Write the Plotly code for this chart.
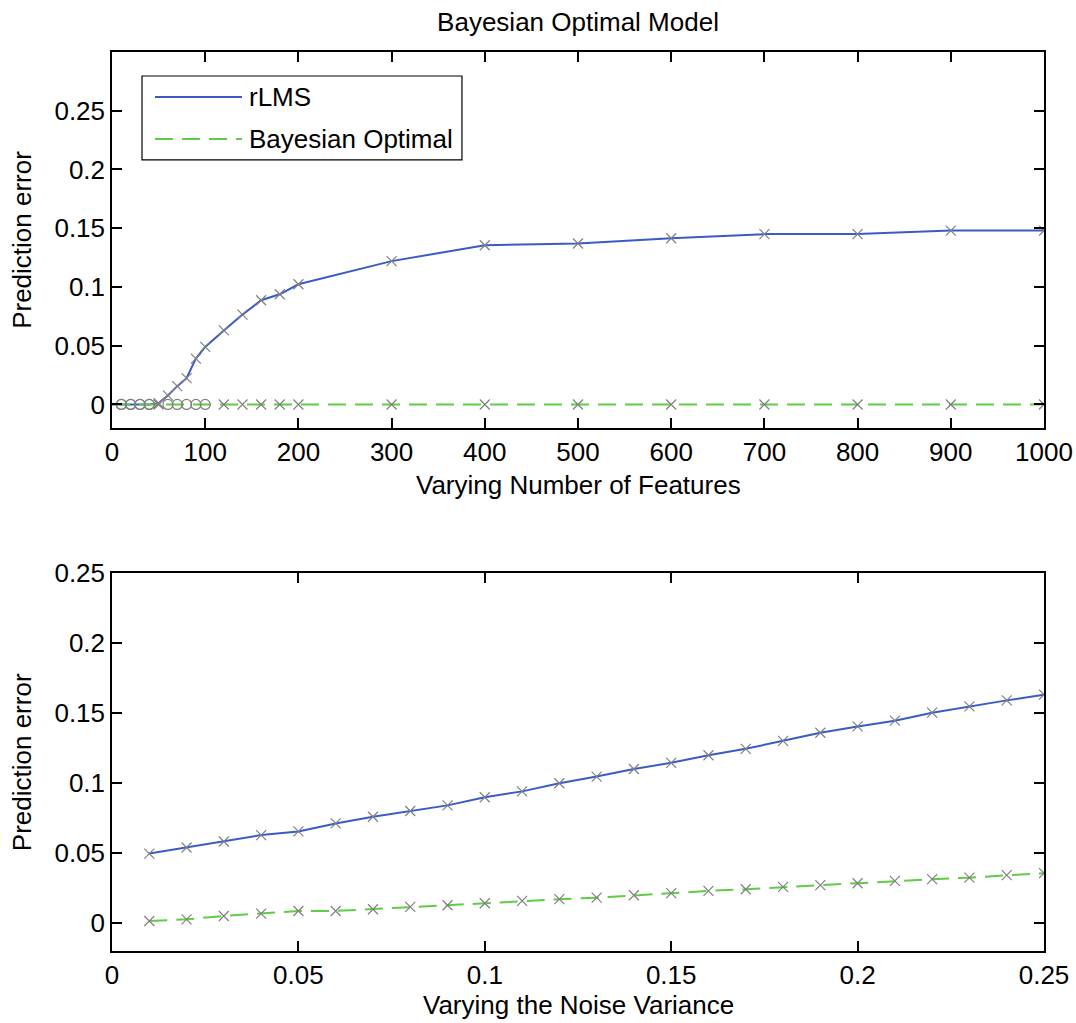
import plotly.graph_objects as go

# ---- data: varying number of features ----
n_features = [0, 10, 20, 30, 40, 50, 60, 70, 80, 90, 100, 120, 140, 160, 180, 200,
              300, 400, 500, 600, 700, 800, 900, 1000]
rlms_features = [0.0, 0.0, 0.0, 0.0, 0.0, 0.001, 0.0077, 0.0156, 0.0224, 0.039, 0.049,
                 0.063, 0.0765, 0.0887, 0.0938, 0.1023, 0.122, 0.1355, 0.137, 0.1415,
                 0.145, 0.145, 0.148, 0.148]
bayes_features = [0.0] * len(n_features)

# ---- data: varying noise variance ----
noise_var = [0.01, 0.02, 0.03, 0.04, 0.05, 0.06, 0.07, 0.08, 0.09, 0.10, 0.11, 0.12, 0.13,
             0.14, 0.15, 0.16, 0.17, 0.18, 0.19, 0.20, 0.21, 0.22, 0.23, 0.24, 0.25]
rlms_noise = [0.0496, 0.0539, 0.0582, 0.0628, 0.0654, 0.0711, 0.0759, 0.0800, 0.0840,
              0.0898, 0.0940, 0.0998, 0.1046, 0.1100, 0.1144, 0.1198, 0.1244, 0.1301,
              0.1359, 0.1404, 0.1445, 0.1502, 0.1547, 0.1590, 0.1631]
bayes_noise = [0.0014, 0.0026, 0.0050, 0.0067, 0.0086, 0.0086, 0.0098, 0.0115, 0.0127,
               0.0141, 0.0158, 0.0170, 0.0181, 0.0198, 0.0213, 0.0229, 0.0241, 0.0258,
               0.0270, 0.0284, 0.0301, 0.0313, 0.0324, 0.0342, 0.0356]

feature_ticks = [0, 100, 200, 300, 400, 500, 600, 700, 800, 900, 1000]
noise_ticks = [0, 0.05, 0.1, 0.15, 0.2, 0.25]
noise_tick_text = ["0", "0.05", "0.1", "0.15", "0.2", "0.25"]
error_ticks = [0, 0.05, 0.1, 0.15, 0.2, 0.25]
error_tick_text = ["0", "0.05", "0.1", "0.15", "0.2", "0.25"]
series_names = ["rLMS", "Bayesian Optimal"]

# ---- styles ----
BLUE = "#3a5bc7"
GREEN = "#5fcc45"
GREY = "#808080"
FONT = "Liberation Sans, Arial, sans-serif"
FS = 26
DASH = "18px,9px"

# marker shapes along the feature sweep (circles where the sweep is dense)
rlms_feat_symbols = ["circle-open" if x < 50 else "x-thin-open" for x in n_features]
bayes_feat_symbols = ["circle-open" if (x <= 100 and x != 50) else "x-thin-open"
                      for x in n_features]

fig = go.Figure()

# top panel
fig.add_trace(go.Scatter(x=n_features, y=rlms_features, mode="lines", name=series_names[0],
                         line=dict(color=BLUE, width=2), xaxis="x", yaxis="y"))
fig.add_trace(go.Scatter(x=n_features, y=bayes_features, mode="lines",
                         name=series_names[1],
                         line=dict(color=GREEN, width=2, dash=DASH),
                         xaxis="x", yaxis="y"))
fig.add_trace(go.Scatter(x=n_features[1:], y=rlms_features[1:], mode="markers",
                         hoverinfo="skip",
                         marker=dict(symbol=rlms_feat_symbols[1:], size=10, color=GREY,
                                     line=dict(color=GREY, width=1.2)),
                         xaxis="x", yaxis="y"))
fig.add_trace(go.Scatter(x=n_features[1:], y=bayes_features[1:], mode="markers",
                         hoverinfo="skip",
                         marker=dict(symbol=bayes_feat_symbols[1:], size=10, color=GREY,
                                     line=dict(color=GREY, width=1.2)),
                         xaxis="x", yaxis="y"))

# bottom panel
fig.add_trace(go.Scatter(x=noise_var, y=rlms_noise, mode="lines",
                         line=dict(color=BLUE, width=2), xaxis="x2", yaxis="y2"))
fig.add_trace(go.Scatter(x=noise_var, y=bayes_noise, mode="lines",
                         line=dict(color=GREEN, width=2, dash=DASH),
                         xaxis="x2", yaxis="y2"))
for ys in (rlms_noise, bayes_noise):
    fig.add_trace(go.Scatter(x=noise_var, y=ys, mode="markers", hoverinfo="skip",
                             marker=dict(symbol="x-thin-open", size=10, color=GREY,
                                         line=dict(color=GREY, width=1.2)),
                             xaxis="x2", yaxis="y2"))

axis_common = dict(showline=True, linecolor="black", linewidth=1.5, mirror="ticks",
                   ticks="inside", ticklen=10, tickwidth=1.5, tickcolor="black",
                   showgrid=False, zeroline=False, automargin=False,
                   tickfont=dict(family=FONT, size=FS, color="black"))

top_dom = [0.5818, 1.0]
bot_dom = [0.0, 0.4205]

fig.update_layout(
    width=1076, height=1023,
    margin=dict(l=112, r=32, t=52, b=72, autoexpand=False),
    paper_bgcolor="white", plot_bgcolor="white",
    font=dict(family=FONT, size=FS, color="black"),
    showlegend=False,
    title=dict(text="Bayesian Optimal Model", x=0.5372, xanchor="center",
               y=1 - 22 / 1023, yanchor="middle",
               font=dict(family=FONT, size=FS, color="black")),
    xaxis=dict(domain=[0, 1], anchor="y", range=[0, 1000], tickvals=feature_ticks,
               **axis_common),
    yaxis=dict(domain=top_dom, anchor="x", range=[-0.02, 0.3], tickvals=error_ticks,
               ticktext=error_tick_text, **axis_common),
    xaxis2=dict(domain=[0, 1], anchor="y2", range=[0, 0.25], tickvals=noise_ticks,
                ticktext=noise_tick_text, **axis_common),
    yaxis2=dict(domain=bot_dom, anchor="x2", range=[-0.02, 0.25], tickvals=error_ticks,
                ticktext=error_tick_text, **axis_common),
)

# legend box in the upper-left of the top panel, with long line samples
fig.add_shape(type="rect", xref="paper", yref="paper",
              x0=0.0322, x1=0.3755, y0=0.8799, y1=0.9733,
              line=dict(color="black", width=1.2), fillcolor="white", layer="above")
legend_rows = [(series_names[0], 0.9499, dict(color=BLUE, width=2)),
               (series_names[1], 0.9032, dict(color=GREEN, width=2, dash=DASH))]
for name, ly, lstyle in legend_rows:
    fig.add_shape(type="line", xref="paper", yref="paper",
                  x0=0.0461, x1=0.1395, y0=ly, y1=ly, line=lstyle, layer="above")
    fig.add_annotation(text=name, x=0.1448, y=ly, xref="paper", yref="paper",
                       xanchor="left", yanchor="middle", showarrow=False,
                       font=dict(family=FONT, size=FS, color="black"))

# axis titles
labels = [
    ("Varying Number of Features", 0.5, 0.5184, 0),
    ("Varying the Noise Variance", 0.5, -0.0601, 0),
    ("Prediction error", -0.0966, 0.791, -90),
    ("Prediction error", -0.0966, 0.210, -90),
]
for text, x, y, ang in labels:
    fig.add_annotation(text=text, x=x, y=y, xref="paper", yref="paper",
                       xanchor="center", yanchor="middle", showarrow=False,
                       textangle=ang, font=dict(family=FONT, size=FS, color="black"))

fig.write_html("out.html")
